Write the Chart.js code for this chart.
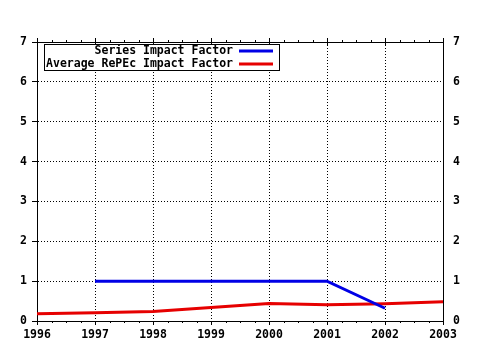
<!DOCTYPE html>
<html>
<head>
<meta charset="utf-8">
<script src="https://cdn.jsdelivr.net/npm/chart.js"></script>
<style>
  html, body { margin: 0; padding: 0; background: #fff; }
  #wrap { width: 480px; height: 350px; }
</style>
</head>
<body>
<div id="wrap"><canvas id="impact-chart" width="480" height="350"></canvas></div>
<script>
// data
var seriesLabels = ["Series Impact Factor", "Average RePEc Impact Factor"];
var seriesYears = [1997, 1998, 1999, 2000, 2001, 2002];
var seriesValues = [1, 1, 1, 1, 1, 0.32];
var averageYears = [1996, 1997, 1998, 1999, 2000, 2001, 2002, 2003];
var averageValues = [0.18, 0.21, 0.24, 0.34, 0.44, 0.41, 0.43, 0.48];
var yTicks = [0, 1, 2, 3, 4, 5, 6, 7];
var xTicks = [1996, 1997, 1998, 1999, 2000, 2001, 2002, 2003];

var FONT = { family: "'DejaVu Sans Mono', monospace", size: 11.5, weight: "bold" };
var colors = ["#0000e6", "#e60000"];

function pts(xs, ys) {
	return xs.map(function (x, i) { return { x: x, y: ys[i] }; });
}

// dotted grid only inside the plot, not on the frame
function innerGrid(list) {
	return function (c) {
		var v = c.tick.value;
		return v === list[0] || v === list[list.length - 1] ? "rgba(0,0,0,0)" : "#000";
	};
}

// frame, quarter-year ticks and the boxed legend
var decor = {
	id: "decor",
	afterDraw: function (chart) {
		var ctx = chart.ctx, a = chart.chartArea, xs = chart.scales.x;
		ctx.save();
		ctx.strokeStyle = "#000";
		ctx.lineWidth = 1;
		ctx.beginPath();
		ctx.moveTo(a.left, a.top + 0.5);
		ctx.lineTo(a.right, a.top + 0.5);
		for (var q = xTicks[0]; q <= xTicks[xTicks.length - 1] + 0.001; q += 0.25) {
			var px = Math.round(xs.getPixelForValue(q)) + 0.5;
			var major = Math.abs(q - Math.round(q)) < 0.01;
			ctx.moveTo(px, a.top - (major ? 4 : 2));
			ctx.lineTo(px, a.top + (major ? 4 : 0));
			if (!major) {
				ctx.moveTo(px, a.bottom);
				ctx.lineTo(px, a.bottom + 2);
			}
		}
		ctx.stroke();

		// legend box
		var bx = 44, by = 44, bw = 235, bh = 26;
		ctx.fillStyle = "#fff";
		ctx.fillRect(bx, by, bw, bh);
		ctx.strokeRect(bx + 0.5, by + 0.5, bw, bh);
		ctx.font = FONT.weight + " " + FONT.size + "px " + FONT.family;
		ctx.textAlign = "right";
		ctx.textBaseline = "middle";
		seriesLabels.forEach(function (lab, i) {
			var ly = by + 7 + i * 13;
			ctx.fillStyle = "#000";
			ctx.fillText(lab, bx + 189, ly);
			ctx.strokeStyle = colors[i];
			ctx.lineWidth = 3;
			ctx.beginPath();
			ctx.moveTo(bx + 195, ly);
			ctx.lineTo(bx + 229, ly);
			ctx.stroke();
		});
		ctx.restore();
	}
};

function yAxis(pos) {
	return {
		type: "linear",
		position: pos,
		min: 0,
		max: 7,
		afterBuildTicks: function (s) { s.ticks = yTicks.map(function (v) { return { value: v }; }); },
		afterFit: function (s) { s.width = 37; },
		ticks: { color: "#000", font: FONT, padding: 5 },
		grid: {
			display: pos === "left",
			color: innerGrid(yTicks),
			tickColor: "#000",
			tickLength: 5,
			drawOnChartArea: pos === "left"
		},
		border: { display: true, color: "#000", width: 1, dash: [1, 2] }
	};
}

new Chart(document.getElementById("impact-chart"), {
	type: "line",
	data: {
		datasets: [
			{
				label: seriesLabels[0],
				data: pts(seriesYears, seriesValues),
				borderColor: colors[0],
				borderWidth: 3,
				pointRadius: 0,
				tension: 0,
				yAxisID: "y"
			},
			{
				label: seriesLabels[1],
				data: pts(averageYears, averageValues),
				borderColor: colors[1],
				borderWidth: 3,
				pointRadius: 0,
				tension: 0,
				yAxisID: "y"
			}
		]
	},
	options: {
		responsive: false,
		animation: false,
		layout: { padding: { top: 42, left: 0, right: 0, bottom: 0 } },
		plugins: { legend: { display: false }, tooltip: { enabled: false } },
		scales: {
			x: {
				type: "linear",
				min: xTicks[0],
				max: xTicks[xTicks.length - 1],
				afterBuildTicks: function (s) { s.ticks = xTicks.map(function (v) { return { value: v }; }); },
				afterFit: function (s) { s.height = 29; },
				ticks: { color: "#000", font: FONT, padding: 3, maxRotation: 0, callback: function (v) { return String(v); } },
				grid: { color: innerGrid(xTicks), tickColor: "#000", tickLength: 4 },
				border: { display: true, color: "#000", width: 1, dash: [1, 2] }
			},
			y: yAxis("left"),
			y2: yAxis("right")
		}
	},
	plugins: [decor]
});
</script>
</body>
</html>
